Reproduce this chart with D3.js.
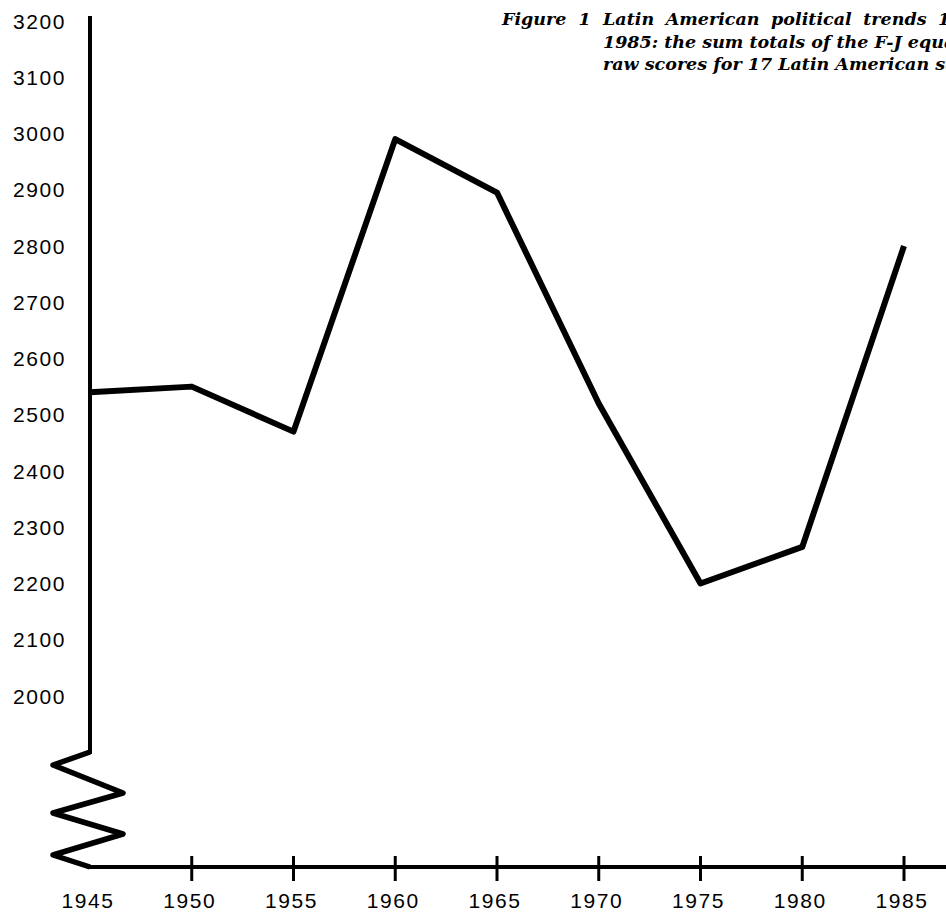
<!DOCTYPE html>
<html>
<head>
<meta charset="utf-8">
<script src="https://cdn.jsdelivr.net/npm/d3@7"></script>
<style>
  body { margin: 0; background: #fff; }
  svg { display: block; }
  .tick-label { font-family: "Liberation Sans", Arial, sans-serif; font-size: 21px; letter-spacing: 1.6px; fill: #000; }
  .caption { font-family: "DejaVu Serif", serif; font-style: italic; font-weight: bold; font-size: 17.5px; fill: #000; }
</style>
</head>
<body>
<svg width="946" height="912"></svg>
<script>
// data
var years = [1945, 1950, 1955, 1960, 1965, 1970, 1975, 1980, 1985];
var scores = [2540, 2550, 2470, 2990, 2895, 2520, 2200, 2265, 2800];
var yTicks = [3200, 3100, 3000, 2900, 2800, 2700, 2600, 2500, 2400, 2300, 2200, 2100, 2000];
var xTicks = [1945, 1950, 1955, 1960, 1965, 1970, 1975, 1980, 1985];
var captionLines = [
  "Latin American political trends 1945\u2013",
  "1985: the sum totals of the F-J equality",
  "raw scores for 17 Latin American states"
];

var svg = d3.select("svg"),
    width = +svg.attr("width"),
    height = +svg.attr("height");

var x = d3.scaleLinear().domain([1945, 1985]).range([90, 904]);
var y = d3.scaleLinear().domain([2000, 3200]).range([696, 21]);

var axisX = 90,      // vertical axis position
    axisTop = 16,
    breakTop = 752,
    baseY = 867;     // horizontal axis position

// vertical axis, then the horizontal one
svg.append("line")
    .attr("x1", axisX).attr("x2", axisX)
    .attr("y1", axisTop).attr("y2", breakTop + 2)
    .attr("stroke", "#000")
    .attr("stroke-width", 4);

svg.append("line")
    .attr("x1", axisX - 2).attr("x2", width + 5)
    .attr("y1", baseY).attr("y2", baseY)
    .attr("stroke", "#000")
    .attr("stroke-width", 4);

// scale break zigzag, drawn heavier like the original
var zig = [[0, breakTop], [-37, 765], [33, 793], [-37, 813], [33, 834], [-37, 855], [0, baseY]];
svg.append("path")
    .attr("d", d3.line()(zig.map(function(p) { return [axisX + p[0], p[1]]; })))
    .attr("fill", "none")
    .attr("stroke", "#000")
    .attr("stroke-width", 5.5)
    .attr("stroke-linejoin", "round");

// x ticks crossing the axis
svg.append("g").selectAll("line")
    .data(xTicks.slice(1))
  .enter().append("line")
    .attr("x1", function(d) { return x(d); })
    .attr("x2", function(d) { return x(d); })
    .attr("y1", baseY - 11)
    .attr("y2", baseY + 14)
    .attr("stroke", "#000")
    .attr("stroke-width", 3);

svg.append("g").selectAll("text")
    .data(xTicks)
  .enter().append("text")
    .attr("class", "tick-label")
    .attr("x", function(d) { return x(d) - 2; })
    .attr("y", 908)
    .attr("text-anchor", "middle")
    .text(function(d) { return d; });

// y labels, no tick marks in the original
svg.append("g").selectAll("text")
    .data(yTicks)
  .enter().append("text")
    .attr("class", "tick-label")
    .attr("x", 13)
    .attr("y", function(d) { return y(d); })
    .attr("dy", "0.36em")
    .text(function(d) { return d; });

// the series
var line = d3.line()
    .x(function(d, i) { return x(years[i]); })
    .y(function(d) { return y(d); });

svg.append("path")
    .datum(scores)
    .attr("d", line)
    .attr("fill", "none")
    .attr("stroke", "#000")
    .attr("stroke-width", 6)
    .attr("stroke-linejoin", "round");

// caption, runs off the right edge like the scan
svg.append("text")
    .attr("class", "caption")
    .attr("x", 502)
    .attr("y", 25)
    .attr("word-spacing", 6)
    .text("Figure 1");

svg.append("g").selectAll("text")
    .data(captionLines)
  .enter().append("text")
    .attr("class", "caption")
    .attr("x", 603)
    .attr("y", function(d, i) { return 25 + i * 22.5; })
    .attr("word-spacing", function(d, i) { return i === 0 ? 5.5 : 0; })
    .text(function(d) { return d; });
</script>
</body>
</html>
